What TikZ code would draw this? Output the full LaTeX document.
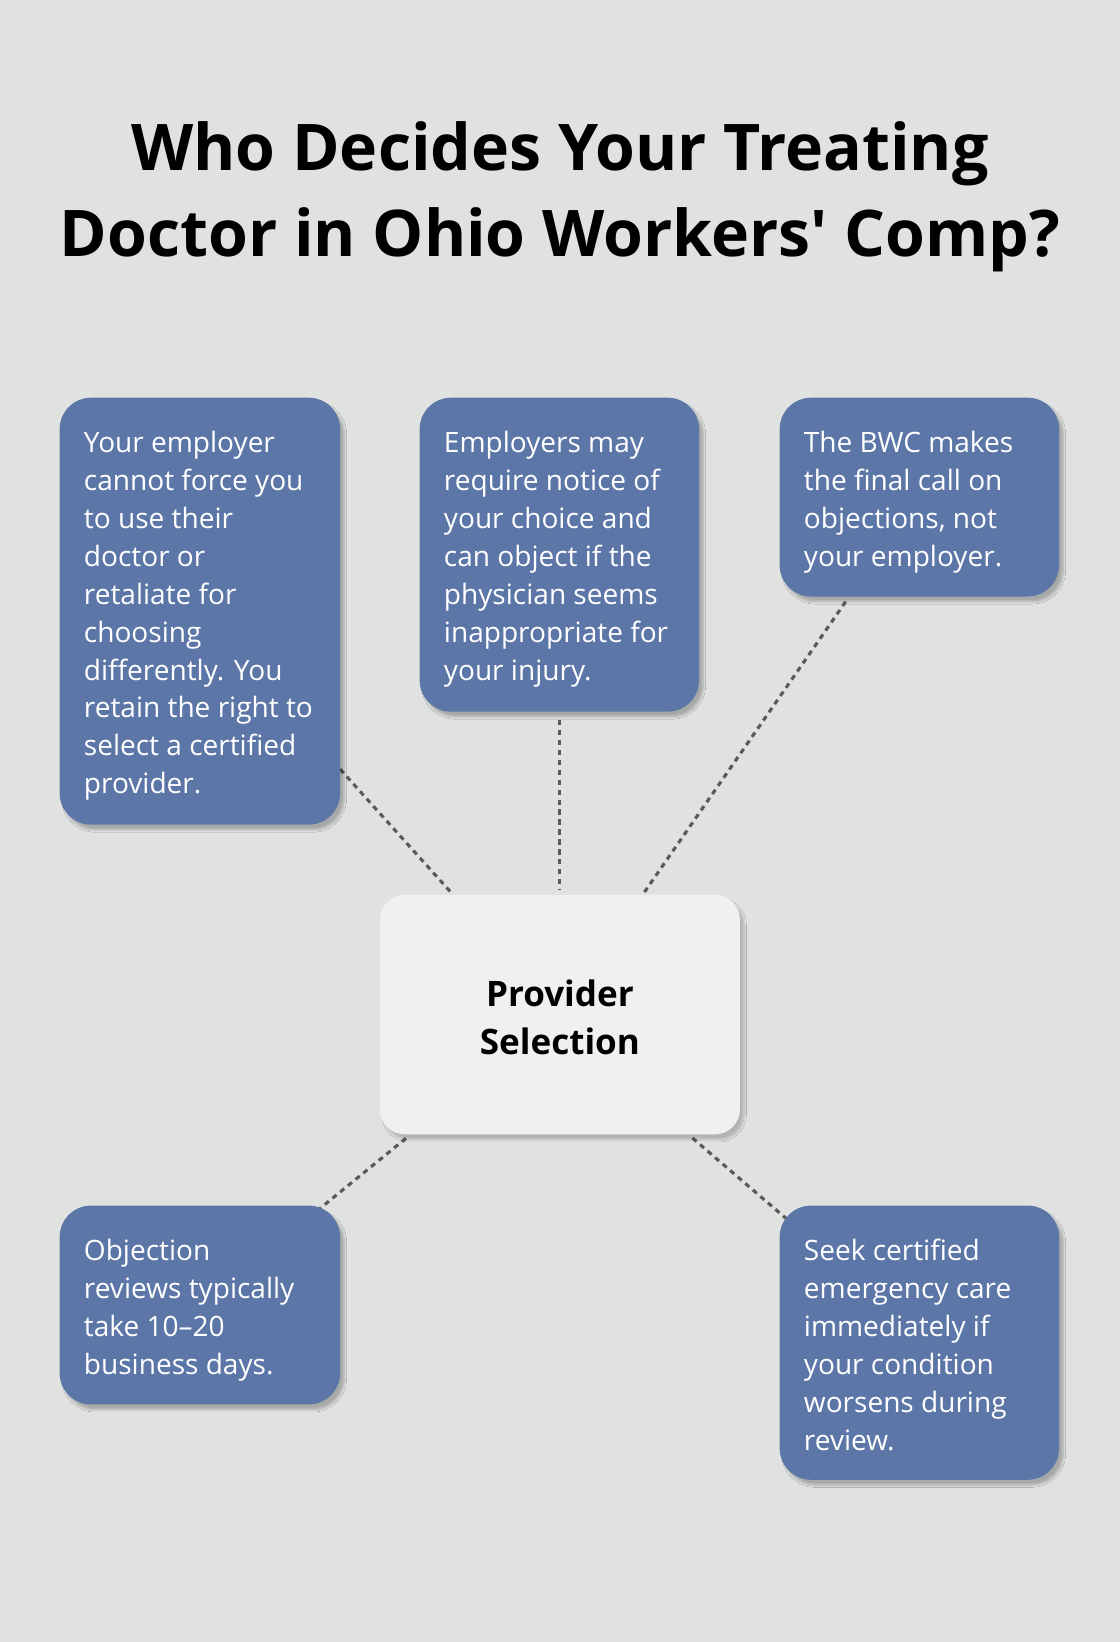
\documentclass[tikz,border=0pt]{standalone}
\usepackage{fontspec}
\setmainfont{Open Sans}
\usetikzlibrary{shadows.blur}
\definecolor{bg}{HTML}{E0E2E1}
\definecolor{boxc}{HTML}{5C76A8}
\definecolor{cen}{HTML}{EFF0F2}
\definecolor{dot}{HTML}{5A5A5A}
\begin{document}
\begin{tikzpicture}[x=1pt,y=-1pt,
 card/.style={rounded corners=30pt,fill=boxc,blur shadow={shadow xshift=4pt,shadow yshift=-5pt,shadow blur steps=10,shadow opacity=25}},
 txt/.style={anchor=north west,text=white,align=left,inner sep=0pt,font=\fontsize{26.8}{36.2}\selectfont},
 conn/.style={dot,line width=3pt,dash pattern=on 5pt off 4.5pt}]
\fill[bg] (0,0) rectangle (1070,1569);
\useasboundingbox (0,0) rectangle (1070,1569);
\node[font=\bfseries\fontsize{61.5}{82}\selectfont,align=center] (title) at (535,188) {Who Decides Your Treating\\Doctor in Ohio Workers\textquotesingle\ Comp?};
\coordinate (a1) at (325,735); \coordinate (b1) at (433,855);
\coordinate (a2) at (535,688); \coordinate (b2) at (535,850);
\coordinate (a3) at (808,575); \coordinate (b3) at (614,855);
\coordinate (a4) at (303,1157); \coordinate (b4) at (390,1086);
\coordinate (a5) at (752,1165); \coordinate (b5) at (660,1086);
\draw[conn] (a1)--(b1); \draw[conn] (a2)--(b2); \draw[conn] (a3)--(b3);
\draw[conn] (a4)--(b4); \draw[conn] (a5)--(b5);
\path[card] (57,380) rectangle (325,788);
\path[card] (401,380) rectangle (668,680);
\path[card] (745,380) rectangle (1012,570);
\path[card] (57,1152) rectangle (325,1342);
\path[card] (745,1152) rectangle (1012,1414);
\path[rounded corners=24pt,fill=cen,blur shadow={shadow xshift=4pt,shadow yshift=-5pt,shadow blur steps=10,shadow opacity=20}] (363,855) rectangle (707,1084);
\node[font=\bfseries\fontsize{33.5}{46}\selectfont,align=center] (center) at (535,972) {Provider\\Selection};
\node[txt] (t1) at (80,412) {Your employer\\cannot force you\\to use their\\doctor or\\retaliate for\\choosing\\differently. You\\retain the right to\\select a certified\\provider.};
\node[txt] (t2) at (424,412) {Employers may\\require notice of\\your choice and\\can object if the\\physician seems\\inappropriate for\\your injury.};
\node[txt] (t3) at (768,412) {The BWC makes\\the final call on\\objections, not\\your employer.};
\node[txt] (t4) at (80,1184) {Objection\\reviews typically\\take 10–20\\business days.};
\node[txt] (t5) at (768,1184) {Seek certified\\emergency care\\immediately if\\your condition\\worsens during\\review.};
\end{tikzpicture}
\end{document}
